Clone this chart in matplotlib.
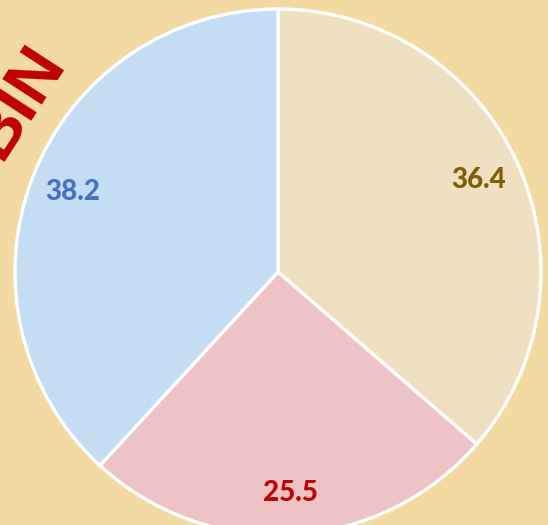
import matplotlib.pyplot as plt

values = [36.4, 25.5, 38.2]
labels = ["36.4", "25.5", "38.2"]
slice_colors = ["#EEE0C1", "#EEC3C6", "#C4DDF2"]
label_colors = ["#7F5F00", "#C00000", "#4472C4"]
title = "BIN"

fig = plt.figure(figsize=(5.48, 5.25), dpi=100)
fig.patch.set_facecolor("#F2DAA2")

# pie axes: centre at about (278, 272) px, radius about 262 px
ax = fig.add_axes([15 / 548, -10 / 525, 526 / 548, 526 / 525])
ax.set_facecolor("none")

wedges, texts = ax.pie(values, labels=labels, colors=slice_colors, startangle=90,
                       counterclock=False, labeldistance=0.84, radius=1,
                       wedgeprops=dict(edgecolor="white", linewidth=2.4))
for t, c in zip(texts, label_colors):
    t.set_color(c)
    t.set_fontsize(20)
    t.set_fontweight(900)
    t.set_family("Lato")
    t.set_ha("center")
    t.set_va("center")

ax.set_xlim(-1, 1)
ax.set_ylim(-1, 1)
ax.set_aspect("equal")

# rotated title, mostly off the top-left corner
fig.text(18 / 548, 1 - 102 / 525, title, rotation=57, color="#C00000",
         fontsize=50, fontweight="bold", family="Liberation Sans",
         ha="center", va="center")

fig.savefig("out.png", dpi=100, facecolor=fig.get_facecolor())
